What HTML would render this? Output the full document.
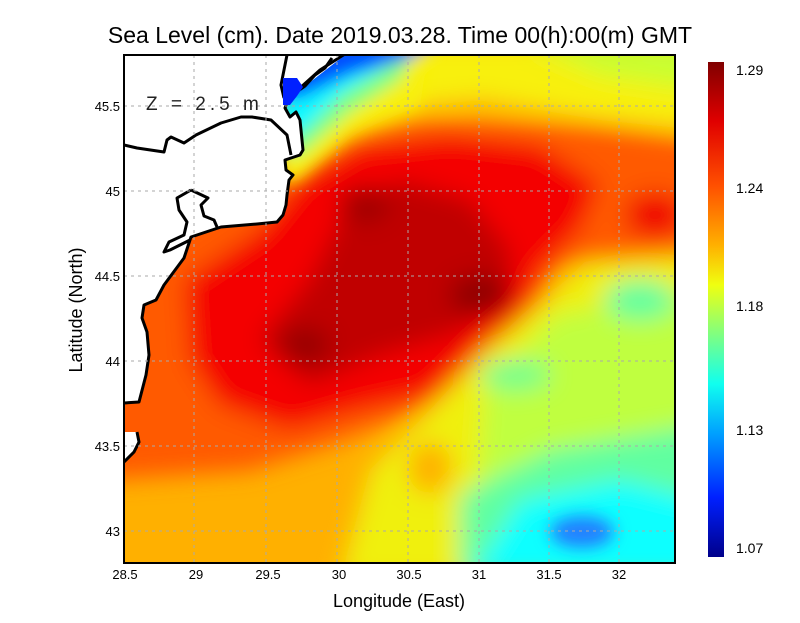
<!DOCTYPE html>
<html><head><meta charset="utf-8"><style>
body{margin:0;background:#fff;}
svg text{font-family:"Liberation Sans",sans-serif;}
</style></head><body>
<svg width="800" height="618" viewBox="0 0 800 618" xmlns="http://www.w3.org/2000/svg">
<defs>
<clipPath id="pc"><rect x="124" y="55" width="551" height="508"/></clipPath>
<filter id="b1" x="-30%" y="-30%" width="160%" height="160%"><feGaussianBlur stdDeviation="12"/></filter>
<filter id="b2" x="-30%" y="-30%" width="160%" height="160%"><feGaussianBlur stdDeviation="8"/></filter>
<linearGradient id="cb" x1="0" y1="0" x2="0" y2="1">
<stop offset="0" stop-color="#800000"/><stop offset="0.12" stop-color="#e00000"/>
<stop offset="0.25" stop-color="#ff5000"/><stop offset="0.37" stop-color="#ffb000"/>
<stop offset="0.45" stop-color="#f0ff10"/><stop offset="0.55" stop-color="#80ff80"/>
<stop offset="0.65" stop-color="#10ffef"/><stop offset="0.75" stop-color="#00a0ff"/>
<stop offset="0.88" stop-color="#0020ff"/><stop offset="1" stop-color="#00008a"/>
</linearGradient>
</defs>
<text x="400" y="43" font-size="23" text-anchor="middle">Sea Level (cm). Date 2019.03.28. Time 00(h):00(m) GMT</text>
<g clip-path="url(#pc)">
<rect x="100" y="40" width="600" height="540" fill="#ffb000"/>
<g filter="url(#b1)">
<polygon fill="#f8f010" points="380,40 700,40 700,130 600,120 480,100 380,110"/>
<polygon fill="#c8ff30" points="520,40 700,40 700,90 600,75"/>
<polygon fill="#ff5a00" points="100,200 300,160 420,120 600,125 700,140 700,255 560,265 520,340 420,410 330,445 250,470 100,480"/>
<polygon fill="#f40000" points="185,280 260,230 300,180 360,145 450,135 540,145 600,185 580,230 540,270 520,320 470,360 430,395 360,410 290,430 220,405 190,360"/>
<polygon fill="#c00000" points="260,340 310,280 345,210 400,180 470,200 510,250 510,300 450,335 380,355 310,385"/>
<ellipse cx="480" cy="295" rx="30" ry="20" fill="#900000"/>
<ellipse cx="365" cy="205" rx="25" ry="18" fill="#a00000"/>
<ellipse cx="305" cy="345" rx="25" ry="18" fill="#980000"/>
<ellipse cx="655" cy="215" rx="30" ry="22" fill="#f00000"/>
<polygon fill="#f0f010" points="430,410 485,350 545,300 585,262 700,255 700,580 340,580 370,470"/>
<polygon fill="#c0ff40" points="485,390 555,315 700,290 700,580 470,580"/>
<ellipse cx="430" cy="468" rx="22" ry="26" fill="#ffb000"/>
<polygon fill="#60ffa0" points="460,495 550,450 700,425 700,580 460,580"/>
<ellipse cx="640" cy="300" rx="35" ry="20" fill="#60ffa0"/>
<ellipse cx="515" cy="375" rx="35" ry="15" fill="#70ff90"/>
<polygon fill="#10ffff" points="470,580 520,500 620,480 700,500 700,580"/>
</g>
<g filter="url(#b2)">
<ellipse cx="582" cy="532" rx="32" ry="16" fill="#2080ff"/>
<polygon fill="#f8f010" points="280,40 430,40 420,105 350,135 300,180 280,185"/>
<polygon fill="#80ff80" points="280,40 420,40 400,80 350,112 300,155 280,155"/>
<polygon fill="#10f8ff" points="280,40 410,40 385,68 340,95 300,135 280,135"/>
<polygon fill="#0050ff" points="280,40 440,40 410,58 350,75 300,98 280,98"/>
</g>
<polygon fill="#fff" points="100,40 348,40 345,55 300,90 290,95 285,108 290,117 296,112 300,120 303,150 300,155 285,160 286,170 293,175 289,180 287,195 286,205 283,215 277,222 257,224 221,227 191,237 184,258 164,285 156,300 144,305 142,318 147,332 149,355 146,375 139,402 124,403 100,403"/>
<polygon fill="#fff" points="100,432 137,432 139,442 134,452 124,462 100,470"/>
<polyline fill="none" stroke="#000" stroke-width="3" stroke-linejoin="round" points="348,52 320,70 300,88 290,95 285,108 290,117 296,112 300,120 303,150 300,155 285,160 286,170 293,175 289,180 287,195 286,205 283,215 277,222 257,224 221,227 191,237 184,258 164,285 156,300 144,305 142,318 147,332 149,355 146,375 139,402 124,403"/>
<polyline fill="none" stroke="#000" stroke-width="3" points="137,432 139,442 134,452 124,462"/>
<polyline fill="none" stroke="#000" stroke-width="3" stroke-linejoin="round" points="124,145 137,148 164,152 167,140 171,137 184,143 196,135 221,123 241,117 252,117 271,120 287,135 291,155"/>
<polyline fill="none" stroke="#000" stroke-width="3" stroke-linejoin="round" points="191,190 177,198 179,210 187,222 184,235 169,242 164,252 170,250 190,240"/>
<polyline fill="none" stroke="#000" stroke-width="3" stroke-linejoin="round" points="191,190 208,198 201,205 204,216 214,220 217,227"/>
<polyline fill="none" stroke="#000" stroke-width="3" stroke-linejoin="round" points="287,55 281,85 284,98"/>
<polyline fill="none" stroke="#000" stroke-width="3" stroke-linejoin="round" points="292,95 305,86 315,75 325,68 332,58"/>
<polygon fill="#0020ff" points="283,78 297,78 303,87 297,96 290,105 283,105"/>
</g>
<g stroke="#aaa" stroke-width="1" stroke-dasharray="3,4">
<line x1="194" y1="55" x2="194" y2="563"/><line x1="266" y1="55" x2="266" y2="563"/><line x1="337" y1="55" x2="337" y2="563"/><line x1="408" y1="55" x2="408" y2="563"/><line x1="479" y1="55" x2="479" y2="563"/><line x1="549" y1="55" x2="549" y2="563"/><line x1="619" y1="55" x2="619" y2="563"/>
<line x1="124" y1="106" x2="675" y2="106"/><line x1="124" y1="191" x2="675" y2="191"/><line x1="124" y1="276" x2="675" y2="276"/><line x1="124" y1="361" x2="675" y2="361"/><line x1="124" y1="446" x2="675" y2="446"/><line x1="124" y1="531" x2="675" y2="531"/>
</g>
<text x="146" y="110" font-size="19" fill="#222" letter-spacing="4">Z = 2.5 m</text>
<rect x="124" y="55" width="551" height="508" fill="none" stroke="#000" stroke-width="2"/>
<g font-size="13" text-anchor="middle">
<text x="125" y="579">28.5</text><text x="196" y="579">29</text><text x="268" y="579">29.5</text><text x="339" y="579">30</text><text x="409" y="579">30.5</text><text x="479" y="579">31</text><text x="549" y="579">31.5</text><text x="619" y="579">32</text>
</g>
<g font-size="13" text-anchor="end">
<text x="120" y="111">45.5</text><text x="120" y="196">45</text><text x="120" y="281">44.5</text><text x="120" y="366">44</text><text x="120" y="451">43.5</text><text x="120" y="536">43</text>
</g>
<text x="399" y="607" font-size="18" text-anchor="middle">Longitude (East)</text>
<text transform="translate(82,310) rotate(-90)" font-size="18" text-anchor="middle">Latitude (North)</text>
<rect x="708" y="62" width="16" height="495" fill="url(#cb)"/>
<g font-size="14">
<text x="736" y="75">1.29</text><text x="736" y="193">1.24</text><text x="736" y="311">1.18</text><text x="736" y="435">1.13</text><text x="736" y="553">1.07</text>
</g>
</svg>
</body></html>
